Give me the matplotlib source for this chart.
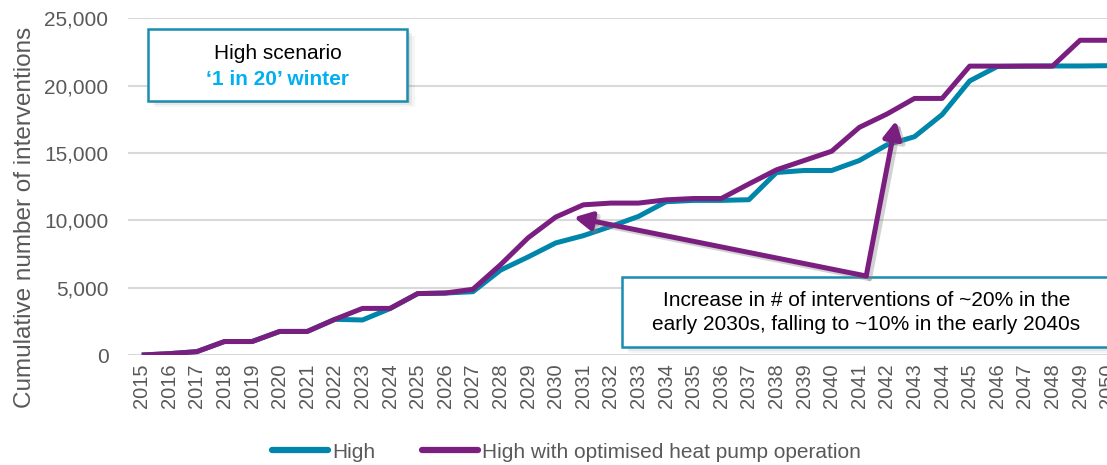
import matplotlib
matplotlib.use("Agg")
import matplotlib.pyplot as plt
from matplotlib.patches import Rectangle
from matplotlib.lines import Line2D

plt.rcParams['font.family'] = ['Liberation Sans', 'DejaVu Sans']

years = [str(y) for y in range(2015, 2051)]
high = [0, 100, 250, 1000, 1000, 1750, 1750, 2650, 2600, 3450,
        4560, 4600, 4700, 6300, 7280, 8320, 8860, 9550, 10290, 11380,
        11480, 11480, 11530, 13550, 13700, 13700, 14440, 15600, 16210, 17850,
        20350, 21420, 21450, 21460, 21460, 21480]
high_opt = [0, 100, 250, 1000, 1000, 1750, 1750, 2650, 3460, 3460,
            4560, 4600, 4880, 6700, 8700, 10240, 11150, 11280, 11280, 11520,
            11620, 11620, 12700, 13750, 14440, 15130, 16900, 17890, 19050, 19050,
            21450, 21450, 21450, 21450, 23370, 23370]
series_labels = ["High", "High with optimised heat pump operation"]
yticks = [0, 5000, 10000, 15000, 20000, 25000]
ylabel = "Cumulative number of interventions"
box1_lines = ["High scenario", "\u20181 in 20\u2019 winter"]
box2_text = "Increase in # of interventions of ~20% in the\nearly 2030s, falling to ~10% in the early 2040s"

TEAL = "#0086AB"
PURPLE = "#7A1F80"
GRAY = "#595959"
GRID = "#D9D9D9"
BOXEDGE = "#1A8CB0"
CYAN = "#00B0F0"

W, H = 1107, 465
fig = plt.figure(figsize=(W / 100, H / 100), dpi=100)
ax = fig.add_axes([127.9 / W, 1 - 355 / H, 36 * 27.6 / W, 336.7 / H])

x = list(range(len(years)))
ax.plot(x, high, color=TEAL, lw=3.6, solid_capstyle='butt', zorder=3)
ax.plot(x, high_opt, color=PURPLE, lw=3.6, solid_capstyle='butt', zorder=4)

ax.set_xlim(-0.5, len(years) - 0.5)
ax.set_ylim(0, 25000)
ax.set_yticks(yticks)
ax.set_yticklabels([f"{v:,}" for v in yticks], color=GRAY, fontsize=15)
ax.set_xticks(x)
ax.set_xticklabels(years, rotation=90, color=GRAY, fontsize=14.5)
ax.tick_params(length=0, pad=6)
ax.tick_params(axis='y', pad=14)
ax.grid(axis='y', color=GRID, lw=1.5, zorder=0)
ax.set_axisbelow(True)
for s in ax.spines.values():
    s.set_visible(False)

fig.text(25 / W, 1 - 217 / H, ylabel, rotation=90, color=GRAY, fontsize=17.5,
         ha='center', va='center')


def shadow_box(x0, y0, x1, y1):
    dx = 0.13
    dy = 220
    for i, a in enumerate([0.12, 0.09, 0.06]):
        ax.add_patch(Rectangle((x0 + dx * (i + 1) * 0.7, y0 - dy * (i + 1) * 0.7),
                               x1 - x0, y1 - y0, facecolor='#606060', alpha=a,
                               edgecolor='none', zorder=5))
    ax.add_patch(Rectangle((x0, y0), x1 - x0, y1 - y0, facecolor='white',
                           edgecolor=BOXEDGE, lw=1.8, zorder=6))


# Box 1
shadow_box(0.217, 18882, 9.62, 24183)
ax.text(4.93, 22400, box1_lines[0], ha='center', va='center', fontsize=15,
        color='black', zorder=7)
ax.text(4.93, 20450, box1_lines[1], ha='center', va='center', fontsize=15,
        color=CYAN, fontweight='bold', zorder=7)

# Box 2
shadow_box(17.4, 616, 37.0, 5814)
ax.text(26.26, 3150, box2_text, ha='center', va='center', fontsize=15,
        color='black', linespacing=1.35, zorder=7)

# Arrows (with soft shadow)
origin = (26.25, 5866)
tips = [(15.66, 10224), (27.33, 17397)]
astyle = '-|>,head_length=0.8,head_width=0.42'
for tip in tips:
    ax.annotate("", xy=(tip[0] + 0.12, tip[1] - 200), xytext=(origin[0] + 0.12, origin[1] - 200),
                arrowprops=dict(arrowstyle=astyle, color='#808080', alpha=0.35, lw=3.6,
                                shrinkA=0, shrinkB=0, mutation_scale=13),
                zorder=7.5)
for tip in tips:
    ax.annotate("", xy=tip, xytext=origin,
                arrowprops=dict(arrowstyle=astyle, color=PURPLE, lw=3.6,
                                shrinkA=0, shrinkB=0, mutation_scale=13),
                zorder=8)

# Legend
handles = [Line2D([0], [0], color=TEAL, lw=4.5, solid_capstyle='round'),
           Line2D([0], [0], color=PURPLE, lw=4.5, solid_capstyle='round')]
leg = fig.legend(handles, series_labels, loc='center', bbox_to_anchor=(566.5 / W, 1 - 452 / H),
                 ncol=2, frameon=False, fontsize=15, handlelength=2.7,
                 handletextpad=0.2, columnspacing=2.2)
for t in leg.get_texts():
    t.set_color(GRAY)

fig.savefig("out.png", dpi=100)
